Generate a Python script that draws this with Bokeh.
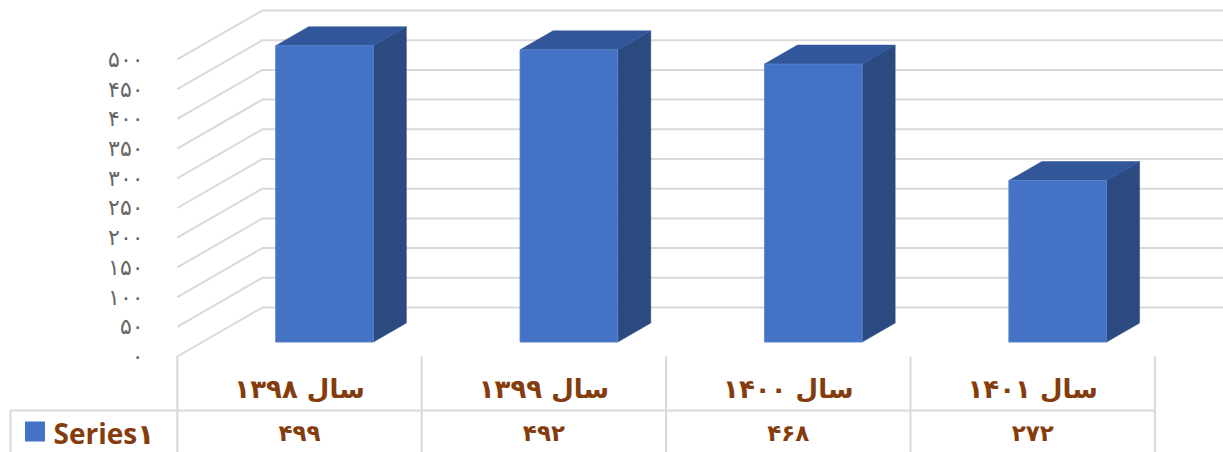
from bokeh.plotting import figure
from bokeh.models import Range1d
from bokeh.core.properties import value
from bokeh.embed import file_html
from bokeh.resources import INLINE

# ---- data ----
categories = ["سال ۱۳۹۸", "سال ۱۳۹۹", "سال ۱۴۰۰", "سال ۱۴۰۱"]
values = [499, 492, 468, 272]
value_labels = ["۴۹۹", "۴۹۲", "۴۶۸", "۲۷۲"]
y_ticks = [0, 50, 100, 150, 200, 250, 300, 350, 400, 450, 500]
y_tick_labels = ["۰", "۵۰", "۱۰۰", "۱۵۰", "۲۰۰", "۲۵۰", "۳۰۰", "۳۵۰", "۴۰۰", "۴۵۰", "۵۰۰"]
series_name = "Series۱"

# ---- style / geometry ----
FRONT = "#4472C4"
SIDE = "#2A4A80"
TOP = "#31579A"
GRID = "#D9D9D9"
BROWN = "#843C0C"
GRAY = "#666666"
PFONT = "DejaVu Sans"

X0, X1 = -1.2234, 3.7807
Y0, Y1 = -161.6, 599.3
DX, DY = 0.348, 82.5          # full wall depth (data units)
BF = 0.294                    # bar front depth fraction
BD = 0.388                    # bar depth fraction
HALF = 0.2                    # bar half width
n = len(categories)

p = figure(width=1223, height=452, x_range=Range1d(X0, X1), y_range=Range1d(Y0, Y1),
           output_backend="svg", toolbar_location=None, min_border=0)
p.axis.visible = False
p.grid.visible = False
p.outline_line_color = None
p.background_fill_color = "white"
p.border_fill_color = "white"

left = -0.5
right = n - 0.5
# gridlines: left wall diagonal + back wall horizontal
gx, gy = [], []
for t in y_ticks:
    gx.append([left, left + DX, X1])
    gy.append([t, t + DY, t + DY])
p.multi_line(gx, gy, line_color=GRID, line_width=2)

# bars
ox, oy = BF * DX, BF * DY
bx, by = BD * DX, BD * DY
fx, fy, sx, sy, tx, ty = [], [], [], [], [], []
for i, v in enumerate(values):
    l = i + ox - HALF
    r = i + ox + HALF
    b = oy
    t = oy + v
    fx.append([l, r, r, l]); fy.append([b, b, t, t])
    sx.append([r, r + bx, r + bx, r]); sy.append([b, b + by, t + by, t])
    tx.append([l, r, r + bx, l + bx]); ty.append([t, t, t + by, t + by])
p.patches(sx, sy, fill_color=SIDE, line_color=SIDE, line_width=0.5)
p.patches(tx, ty, fill_color=TOP, line_color=TOP, line_width=0.5)
p.patches(fx, fy, fill_color=FRONT, line_color="#5B84CC", line_width=0.8)

# y tick labels
p.text(x=[-0.638] * len(y_ticks), y=y_ticks, text=y_tick_labels,
       text_align="right", text_baseline="middle", text_color=GRAY,
       text_font=value(PFONT), text_font_size="22px")

# data table
row_line = -90.9
cat_y = -53.9
val_y = -128.0
legend_left = -1.1825
vx = [[left + k, left + k] for k in range(n + 1)]
vy = [[0, Y0] for _ in range(n + 1)]
vx.append([legend_left, legend_left]); vy.append([row_line, Y0])
vx.append([legend_left, right]); vy.append([row_line, row_line])
p.multi_line(vx, vy, line_color=GRID, line_width=2)

xs = list(range(n))
p.text(x=xs, y=[cat_y] * n, text=categories, text_align="center", text_baseline="middle",
       text_color=BROWN, text_font=value(PFONT), text_font_style="bold", text_font_size="26px")
p.text(x=xs, y=[val_y] * n, text=value_labels, text_align="center", text_baseline="middle",
       text_color=BROWN, text_font=value(PFONT), text_font_style="bold", text_font_size="23px")

# legend key in table
p.scatter(x=[-1.0822], y=[-126.3], marker="square", size=20, fill_color=FRONT, line_color=None)
p.text(x=[-1.0066], y=[val_y], text=[series_name], text_align="left", text_baseline="middle",
       text_color=BROWN, text_font=value("Open Sans, DejaVu Sans"), text_font_style="bold",
       text_font_size="28px")

open("out.html", "w").write(file_html(p, INLINE))
